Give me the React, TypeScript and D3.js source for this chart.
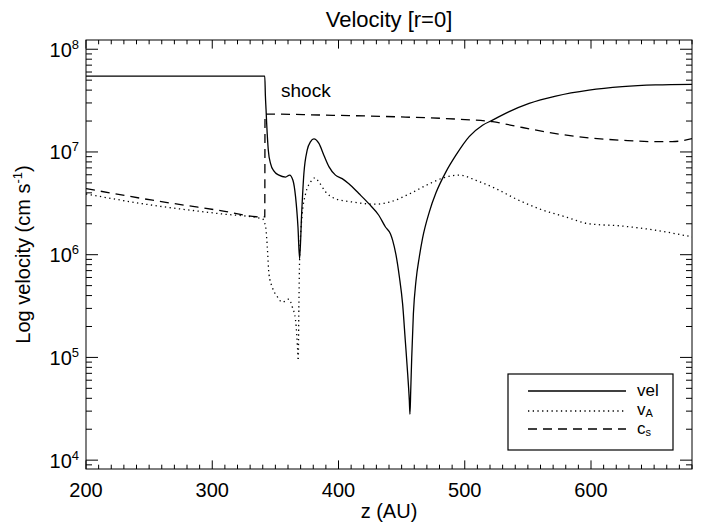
import React from "react";
import * as d3 from "d3";

// ---------- data (z in AU, velocities in cm/s) ----------
const velZ = [200, 341.6, 342.1, 342.6, 343.1, 344.4, 346.2, 348.9, 352.8, 358.1, 361.3, 363.9, 366.0, 367.9, 369.2, 370.8, 372.6, 375.2, 377.9, 380.5, 384.5, 388.4, 392.4, 397.6, 402.9, 408.2, 416.1, 424.0, 431.9, 437.2, 441.1, 442.9, 445.5, 448.2, 450.8, 452.9, 454.8, 456.1, 456.6, 457.2, 458.0, 459.3, 461.4, 464.0, 466.6, 471.9, 477.2, 485.1, 493.0, 503.5, 514.1, 522.0, 535.2, 551.0, 572.1, 598.4, 624.8, 651.1, 680];
const velV = [5.48e7, 5.48e7, 3.5e7, 2.6e7, 1.9e7, 1.04e7, 7.7e6, 6.5e6, 5.95e6, 5.7e6, 5.95e6, 5.3e6, 3.65e6, 1.86e6, 9.1e5, 2.5e6, 6.2e6, 1.04e7, 1.26e7, 1.34e7, 1.21e7, 9.3e6, 7.2e6, 5.95e6, 5.5e6, 4.9e6, 3.94e6, 3.14e6, 2.42e6, 1.86e6, 1.6e6, 1.38e6, 1.0e6, 6.1e5, 3.3e5, 1.46e5, 6.9e4, 3.8e4, 2.8e4, 4.7e4, 1.0e5, 2.65e5, 5.6e5, 9.5e5, 1.45e6, 2.6e6, 4.0e6, 6.4e6, 9.3e6, 1.41e7, 1.82e7, 2.04e7, 2.47e7, 2.97e7, 3.5e7, 4.0e7, 4.32e7, 4.49e7, 4.55e7];

const vaZ = [200, 252.7, 305.4, 339.7, 342.3, 343.6, 344.9, 347.6, 351.5, 355.5, 360.7, 363.4, 366.0, 367.6, 368.1, 368.6, 369.2, 371.3, 373.9, 377.9, 381.3, 384.5, 389.7, 397.6, 410.8, 429.2, 440.3, 456.1, 471.9, 485.1, 495.6, 508.8, 524.6, 540.4, 558.9, 580.0, 598.4, 624.8, 651.1, 680];
const vaV = [3.9e6, 3.03e6, 2.51e6, 2.24e6, 1.86e6, 1.19e6, 6.5e5, 4.8e5, 3.9e5, 3.45e5, 3.7e5, 3.1e5, 2.3e5, 1.2e5, 9.3e4, 3.0e5, 9.0e5, 2.5e6, 3.9e6, 5.1e6, 5.6e6, 5.1e6, 4.1e6, 3.5e6, 3.26e6, 3.1e6, 3.25e6, 3.9e6, 4.9e6, 5.7e6, 5.95e6, 5.3e6, 4.4e6, 3.5e6, 2.8e6, 2.33e6, 2.0e6, 1.9e6, 1.73e6, 1.49e6];

const csZ = [200, 252.7, 305.4, 339.7, 341.6, 341.8, 384.5, 445.1, 493, 522, 545.7, 572.1, 598.4, 624.8, 651.1, 664.3, 680];
const csV = [4.4e6, 3.39e6, 2.7e6, 2.33e6, 2.33e6, 2.34e7, 2.29e7, 2.2e7, 2.09e7, 1.97e7, 1.73e7, 1.51e7, 1.37e7, 1.3e7, 1.26e7, 1.26e7, 1.35e7];

const xMajorTicks = [200, 300, 400, 500, 600];
const yMajorExp = [4, 5, 6, 7, 8];

const title = "Velocity [r=0]";
const xTitle = "z (AU)";

// ---------- layout ----------
const W = 706, H = 525;
const L = 86, R = 692, T = 40, B = 469;
const FONT = "'Liberation Sans', Arial, Helvetica, sans-serif";

export default function App() {
  const x = d3.scaleLinear().domain([200, 680]).range([L, R]);
  const y = d3.scaleLog().domain([8.2e3, 1.23e8]).range([B, T]);

  const line = (zs: number[], vs: number[]) =>
    d3.line<number>()
      .x((_, i) => x(zs[i]))
      .y((v) => y(v))
      .curve(d3.curveMonotoneX)(vs) || "";

  const xMinor = d3.range(200, 681, 10).filter((v) => v % 100 !== 0);
  const yMinor: number[] = [];
  for (let e = 3; e <= 8; e++) {
    for (let k = 2; k <= 9; k++) {
      const v = k * Math.pow(10, e);
      if (v >= 8.2e3 && v <= 1.23e8) yMinor.push(v);
    }
  }
  const xMajLen = 8.6, xMinLen = 4.3, yMajLen = 12, yMinLen = 6;

  return (
    <svg width={W} height={H} style={{ position: "absolute", left: 0, top: 0, background: "#fff" }} fontFamily={FONT}>
      <defs>
        <clipPath id="plotclip">
          <rect x={L} y={T} width={R - L} height={B - T} />
        </clipPath>
      </defs>
      <rect x={0} y={0} width={W} height={H} fill="#fff" />

      {/* title */}
      <text x={(L + R) / 2} y={27} textAnchor="middle" fontSize={22}>{title}</text>

      {/* curves */}
      <g clipPath="url(#plotclip)" fill="none" stroke="#000" strokeWidth={1.3}>
        <path d={line(velZ, velV)} />
        <path d={line(vaZ, vaV)} strokeDasharray="1.3 3.4" />
        <path d={line(csZ, csV)} strokeDasharray="9 6" />
      </g>

      {/* shock label */}
      <text x={281} y={97} fontSize={19}>shock</text>

      {/* frame */}
      <rect x={L} y={T} width={R - L} height={B - T} fill="none" stroke="#000" strokeWidth={1} />

      {/* ticks */}
      <g stroke="#000" strokeWidth={1}>
        {xMajorTicks.map((t) => (
          <g key={"xM" + t}>
            <line x1={x(t)} x2={x(t)} y1={B} y2={B - xMajLen} />
            <line x1={x(t)} x2={x(t)} y1={T} y2={T + xMajLen} />
          </g>
        ))}
        {xMinor.map((t) => (
          <g key={"xm" + t}>
            <line x1={x(t)} x2={x(t)} y1={B} y2={B - xMinLen} />
            <line x1={x(t)} x2={x(t)} y1={T} y2={T + xMinLen} />
          </g>
        ))}
        {yMajorExp.map((e) => (
          <g key={"yM" + e}>
            <line x1={L} x2={L + yMajLen} y1={y(Math.pow(10, e))} y2={y(Math.pow(10, e))} />
            <line x1={R} x2={R - yMajLen} y1={y(Math.pow(10, e))} y2={y(Math.pow(10, e))} />
          </g>
        ))}
        {yMinor.map((v) => (
          <g key={"ym" + v}>
            <line x1={L} x2={L + yMinLen} y1={y(v)} y2={y(v)} />
            <line x1={R} x2={R - yMinLen} y1={y(v)} y2={y(v)} />
          </g>
        ))}
      </g>

      {/* x tick labels */}
      {xMajorTicks.map((t) => (
        <text key={"xl" + t} x={x(t)} y={497} textAnchor="middle" fontSize={20}>{t}</text>
      ))}
      {/* y tick labels */}
      {yMajorExp.map((e) => (
        <text key={"yl" + e} x={79} y={y(Math.pow(10, e)) + 7.5} textAnchor="end" fontSize={20}>
          10<tspan fontSize={13} dy={-8}>{e}</tspan>
        </text>
      ))}

      {/* axis titles */}
      <text x={(L + R) / 2} y={518} textAnchor="middle" fontSize={20}>{xTitle}</text>
      <text transform={`translate(30, ${(T + B) / 2}) rotate(-90)`} textAnchor="middle" fontSize={20}>
        Log velocity (cm s<tspan fontSize={13} dy={-8}>-1</tspan><tspan dy={8}>)</tspan>
      </text>

      {/* legend */}
      <g>
        <rect x={508} y={374} width={165} height={76} fill="#fff" stroke="#000" strokeWidth={1.2} />
        <line x1={528} x2={626} y1={391} y2={391} stroke="#000" strokeWidth={1.3} />
        <line x1={528} x2={626} y1={411} y2={411} stroke="#000" strokeWidth={1.3} strokeDasharray="1.3 3.4" />
        <line x1={528} x2={626} y1={429} y2={429} stroke="#000" strokeWidth={1.3} strokeDasharray="9 6" />
        <text x={637} y={396} fontSize={17}>vel</text>
        <text x={637} y={415} fontSize={17}>v<tspan fontSize={11} dy={2}>A</tspan></text>
        <text x={637} y={434} fontSize={17}>c<tspan fontSize={11} dy={2}>s</tspan></text>
      </g>
    </svg>
  );
}
